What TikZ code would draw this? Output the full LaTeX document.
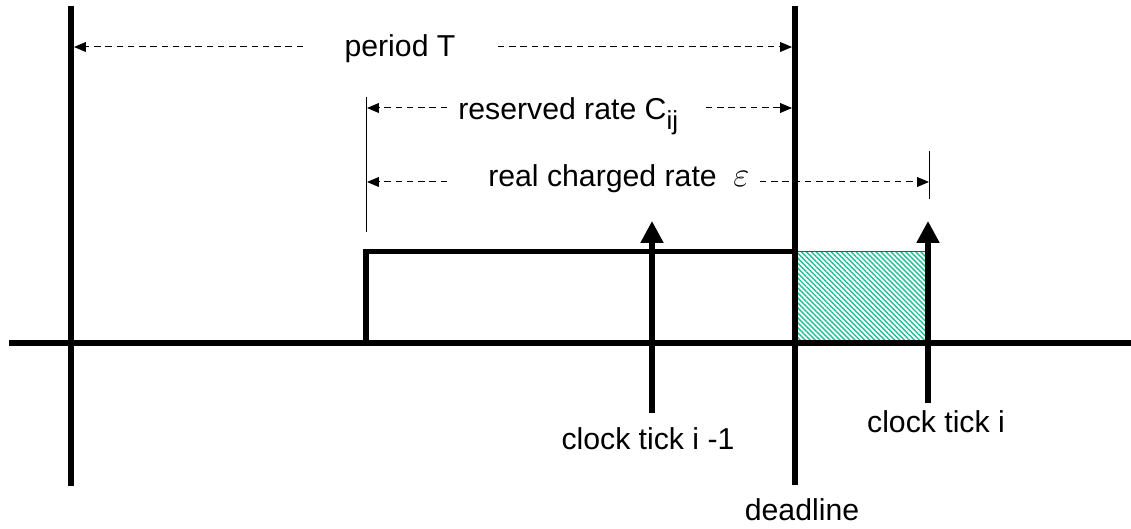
\documentclass[tikz,border=0pt]{standalone}
\usepackage{fontspec}
\setmainfont{Liberation Sans}
\usetikzlibrary{arrows.meta, patterns.meta}
\definecolor{c1}{HTML}{000000}
\definecolor{hatch}{HTML}{1FBF9A}
\definecolor{edge}{HTML}{505050}

\begin{document}
\begin{tikzpicture}[
    every node/.style={font=\fontsize{21.5}{25}\selectfont, inner sep=0pt},
    bar/.style={line width=4.3pt, color=c1},
    pulse/.style={line width=3.6pt, color=c1, line join=miter},
    tick/.style={-{Triangle[length=15.5pt, width=15.5pt]}, line width=3.6pt, color=c1},
    dim/.style={-{Triangle[length=8.5pt, width=7pt]}, line width=0.7pt,
        dash pattern=on 4.5pt off 3.5pt, color=c1},
    guide/.style={line width=0.7pt, color=c1},
]
\useasboundingbox (0,0) rectangle (28.275,13.225);

% ============================================================ the overrun past the deadline
\draw[edge, line width=0.7pt, pattern color=hatch,
    pattern={Lines[angle=-45, distance=2.5pt, line width=1.0pt]}]
    (19.875,4.65) rectangle (23.2,6.94);

% ============================================================ time axis, start and deadline
\coordinate (ax-l) at (0.225,4.65);
\coordinate (ax-r) at (28.275,4.65);
\draw[bar] (ax-l) -- (ax-r);

\coordinate (start-t) at (1.775,13.075);
\coordinate (start-b) at (1.775,1.075);
\draw[bar] (start-t) -- (start-b);

\coordinate (dl-t) at (19.875,13.075);
\coordinate (dl-b) at (19.875,1.10);
\draw[bar] (dl-t) -- (dl-b);
\node[anchor=base] (deadline) at (20.05,0.20) {deadline};

% ============================================================ the reservation
\coordinate (on-b) at (9.15,4.65);
\coordinate (on-t) at (9.15,6.94);
\coordinate (off-t) at (19.875,6.94);
\draw[pulse] (on-b) -- (on-t) -- (off-t);

% ============================================================ clock ticks
\coordinate (tick1-b) at (16.3,2.90);
\coordinate (tick1-t) at (16.3,7.70);
\draw[tick] (tick1-b) -- (tick1-t);
\node[anchor=base] (tickprev) at (16.2,1.98) {clock tick i -1};

\coordinate (tick2-b) at (23.2,3.15);
\coordinate (tick2-t) at (23.2,7.70);
\draw[tick] (tick2-b) -- (tick2-t);
\node[anchor=base] (tickcur) at (23.4,2.42) {clock tick i};

% ============================================================ thin guides
\coordinate (g1-t) at (9.15,10.80);
\coordinate (g1-b) at (9.15,7.425);
\draw[guide] (g1-t) -- (g1-b);
\coordinate (g2-t) at (23.225,9.45);
\coordinate (g2-b) at (23.225,8.25);
\draw[guide] (g2-t) -- (g2-b);

% ============================================================ period T
\node[anchor=base] (period) at (10.0,11.80) {period T};
\coordinate (T-l) at (1.85,12.05);
\coordinate (T-lend) at (7.575,12.05);
\coordinate (T-rend) at (12.45,12.05);
\coordinate (T-r) at (19.80,12.05);
\draw[dim] (T-lend) -- (T-l);
\draw[dim] (T-rend) -- (T-r);

% ============================================================ reserved rate
\node[anchor=base west] (reserved) at (11.45,10.225)
    {reserved rate C\raisebox{-0.32em}{\fontsize{18.5}{18.5}\selectfont ij}};
\coordinate (C-l) at (9.175,10.525);
\coordinate (C-lend) at (11.175,10.525);
\coordinate (C-rend) at (17.65,10.525);
\coordinate (C-r) at (19.80,10.525);
\draw[dim] (C-lend) -- (C-l);
\draw[dim] (C-rend) -- (C-r);

% ============================================================ real charged rate
\node[anchor=base west] (realrate) at (12.2,8.55)
    {real charged rate\hspace{0.55em}{\fontsize{30}{30}\selectfont$\varepsilon$}};
\coordinate (E-l) at (9.175,8.675);
\coordinate (E-lend) at (11.175,8.675);
\coordinate (E-rend) at (19.0,8.675);
\coordinate (E-r) at (23.225,8.675);
\draw[dim] (E-lend) -- (E-l);
\draw[dim] (E-rend) -- (E-r);

\end{tikzpicture}
\end{document}
